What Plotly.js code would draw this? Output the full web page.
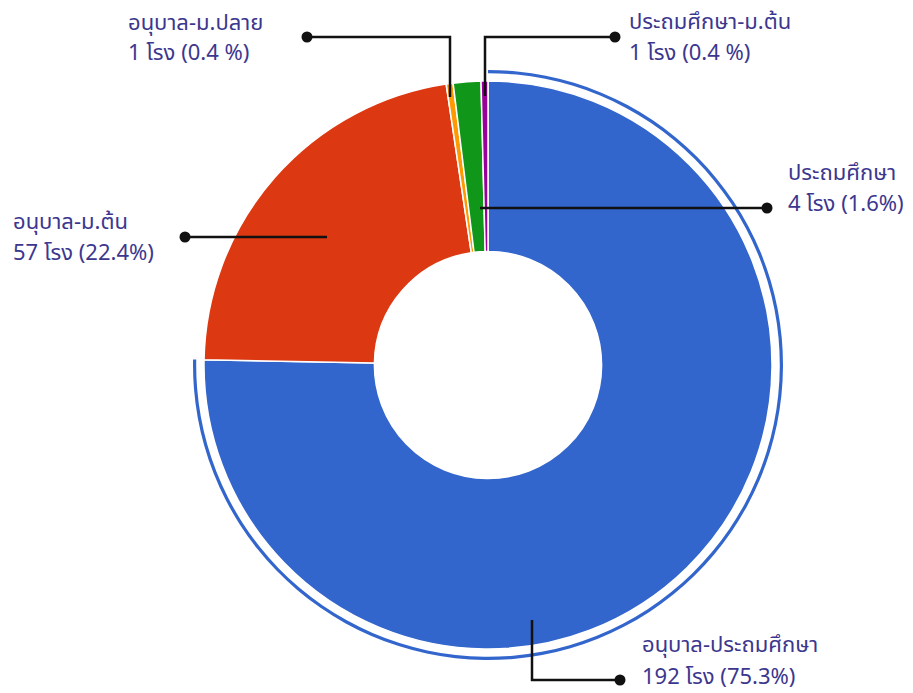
<!DOCTYPE html>
<html>
<head>
<meta charset="utf-8">
<script src="https://cdn.plot.ly/plotly-3.0.1.min.js"></script>
<style>html,body{margin:0;padding:0;background:#fff;}#chart{width:913px;height:693px;}</style>
</head>
<body>
<div id="chart"></div>
<script>
// ---- data ----
var categories = ['อนุบาล-ประถมศึกษา', 'อนุบาล-ม.ต้น', 'อนุบาล-ม.ปลาย', 'ประถมศึกษา', 'ประถมศึกษา-ม.ต้น'];
var schoolCounts = [192, 57, 1, 4, 1];
var percentLabels = ['75.3%', '22.4%', '0.4 %', '1.6%', '0.4 %'];
var unitLabel = 'โรง';
var sliceColors = ['#3366cc', '#dc3912', '#ff9900', '#109618', '#990099'];

// ---- layout constants (pixels) ----
var W = 913, H = 693;
var cx = 488, cy = 365, R = 284, ringOuter = 295, ringInner = 291.8;
var textColor = '#3c378e';
var fontFam = '"Noto Sans Thai", Tahoma, "Leelawadee UI", "Noto Sans", sans-serif';
var fontSize = 22;

// label placement per slice: text x, line1 y, line2 y, leader path (dot first)
var labelPlace = [
  {tx: 640, y1: 645, y2: 677, path: [[620, 680], [532, 680], [532, 620]]},
  {tx: 11,  y1: 223, y2: 254, path: [[185, 237], [327, 237]]},
  {tx: 126, y1: 23,  y2: 53,  path: [[307, 37], [450, 37], [450, 97]]},
  {tx: 786, y1: 174, y2: 205, path: [[767, 208], [480, 208]]},
  {tx: 627, y1: 22,  y2: 53,  path: [[615, 37], [485, 37], [485, 96]]}
];

function px(x) { return x / W; }
function py(y) { return 1 - y / H; }
function dom(r) {
  return {x: [px(cx - r), px(cx + r)], y: [py(cy + r), py(cy - r)]};
}

var ringColors = sliceColors.map(function (c, i) { return i === 0 ? c : 'rgba(0,0,0,0)'; });

var traces = [
  {
    type: 'pie', labels: categories, values: schoolCounts, sort: false,
    direction: 'clockwise', rotation: 0, hole: ringInner / ringOuter,
    domain: dom(ringOuter), marker: {colors: ringColors, line: {width: 0}},
    textinfo: 'none', hoverinfo: 'skip', showlegend: false
  },
  {
    type: 'pie', labels: categories, values: schoolCounts, sort: false,
    direction: 'clockwise', rotation: 0, hole: 0.4,
    domain: dom(R), marker: {colors: sliceColors, line: {color: '#ffffff', width: 1.5}},
    textinfo: 'none', hoverinfo: 'label+value+percent', showlegend: false
  }
];

var shapes = [], annotations = [];
labelPlace.forEach(function (p, i) {
  var d = 'M ' + p.path.map(function (pt) { return px(pt[0]) + ' ' + py(pt[1]); }).join(' L ');
  shapes.push({type: 'path', xref: 'paper', yref: 'paper', path: d,
    line: {color: '#111111', width: 2.5}});
  var dx = p.path[0][0], dy = p.path[0][1], rr = 5.5;
  shapes.push({type: 'circle', xref: 'paper', yref: 'paper',
    x0: px(dx - rr), x1: px(dx + rr), y0: py(dy + rr), y1: py(dy - rr),
    fillcolor: '#111111', line: {color: '#111111', width: 0}});
  annotations.push({xref: 'paper', yref: 'paper', x: px(p.tx), y: py(p.y1),
    xanchor: 'left', yanchor: 'middle', showarrow: false, align: 'left',
    text: categories[i], font: {family: fontFam, size: fontSize, color: textColor}});
  annotations.push({xref: 'paper', yref: 'paper', x: px(p.tx), y: py(p.y2),
    xanchor: 'left', yanchor: 'middle', showarrow: false, align: 'left',
    text: schoolCounts[i] + ' ' + unitLabel + ' (' + percentLabels[i] + ')',
    font: {family: fontFam, size: fontSize, color: textColor}});
});

var layout = {
  width: W, height: H, margin: {l: 0, r: 0, t: 0, b: 0},
  paper_bgcolor: '#ffffff', plot_bgcolor: '#ffffff',
  showlegend: false, shapes: shapes, annotations: annotations
};

Plotly.newPlot('chart', traces, layout, {displayModeBar: false, staticPlot: true});
</script>
</body>
</html>
